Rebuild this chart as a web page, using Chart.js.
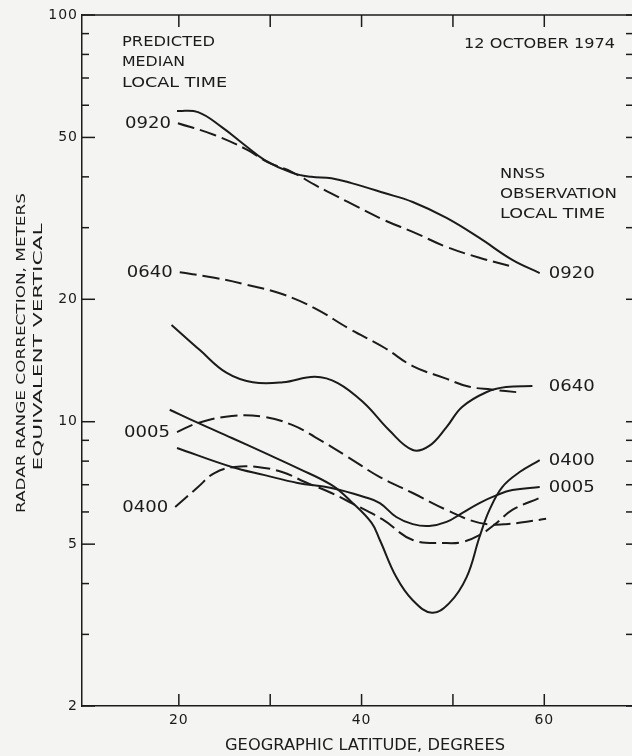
<!DOCTYPE html>
<html>
<head>
<meta charset="utf-8">
<script src="https://cdn.jsdelivr.net/npm/chart.js@4.4.1/dist/chart.umd.min.js"></script>
<style>
  html, body { margin: 0; padding: 0; background: #f4f4f2; }
  #chart { display: block; }
</style>
</head>
<body>
<canvas id="chart" width="632" height="756"></canvas>
<script>
// axis ticks
const latTicks = [20, 30, 40, 50, 60];
const latLabels = [20, 40, 60];
const rcTicks = [2, 3, 4, 5, 6, 7, 8, 9, 10, 20, 30, 40, 50, 60, 70, 80, 90, 100];
const rcLabels = [2, 5, 10, 20, 50, 100];

// NNSS observation (solid) - latitude, range correction (m)
const obs0920Lat = [19.8, 22.1, 24.7, 27.2, 29.4, 32.4, 34.5, 36.7, 38.9, 42.5, 45.6, 49.3, 52.9, 56.5, 59.5];
const obs0920Rc  = [58.1, 57.7, 53.0, 47.9, 44.0, 40.9, 40.0, 39.7, 38.6, 36.5, 34.7, 31.7, 28.3, 25.0, 23.2];
const obs0640Lat = [19.2, 22.3, 25.2, 28.1, 31.4, 34.9, 37.4, 40.3, 43.0, 45.6, 47.4, 49.3, 51.0, 53.7, 55.8, 58.7];
const obs0640Rc  = [17.3, 15.0, 13.2, 12.5, 12.5, 12.9, 12.45, 11.1, 9.54, 8.52, 8.72, 9.7, 10.87, 11.83, 12.17, 12.24];
const obs0400Lat = [19.0, 22.1, 25.8, 29.4, 33.0, 36.7, 38.9, 41.1, 42.0, 43.8, 45.6, 47.7, 49.6, 51.5, 52.9, 54.0, 55.4, 57.3, 59.5];
const obs0400Rc  = [10.7, 9.93, 9.12, 8.38, 7.69, 6.99, 6.35, 5.64, 5.12, 4.15, 3.64, 3.39, 3.58, 4.15, 5.2, 6.07, 6.91, 7.52, 8.05];
const obs0005Lat = [19.8, 25.8, 29.4, 33.0, 36.7, 40.3, 42.0, 43.8, 45.6, 47.4, 49.3, 51.0, 52.9, 54.8, 56.5, 59.5];
const obs0005Rc  = [8.62, 7.74, 7.39, 7.07, 6.87, 6.53, 6.31, 5.83, 5.6, 5.54, 5.67, 5.96, 6.31, 6.6, 6.79, 6.91];

// predicted median (dashed)
const pred0920Lat = [19.9, 23.9, 27.5, 29.7, 32.4, 34.9, 38.5, 42.5, 45.6, 49.3, 52.9, 56.7];
const pred0920Rc  = [54.2, 50.7, 46.6, 43.5, 41.1, 38.2, 34.7, 31.3, 29.3, 26.9, 25.3, 24.0];
const pred0640Lat = [20.1, 23.9, 27.5, 31.3, 34.9, 38.5, 42.5, 45.6, 49.1, 51.7, 54.2, 57.3];
const pred0640Rc  = [23.3, 22.6, 21.7, 20.6, 19.0, 17.0, 15.2, 13.7, 12.8, 12.2, 12.0, 11.8];
const pred0005Lat = [19.8, 22.1, 25.8, 29.4, 32.4, 34.9, 38.5, 42.0, 45.6, 49.3, 52.9, 55.8, 60.2];
const pred0005Rc  = [9.43, 9.93, 10.33, 10.27, 9.82, 9.17, 8.19, 7.31, 6.68, 6.07, 5.64, 5.6, 5.77];
const pred0400Lat = [19.6, 22.1, 23.9, 26.1, 28.6, 31.3, 33.8, 36.7, 38.9, 42.3, 45.6, 49.3, 51.0, 52.9, 54.8, 56.5, 59.5];
const pred0400Rc  = [6.17, 6.91, 7.48, 7.74, 7.74, 7.52, 7.11, 6.68, 6.31, 5.75, 5.12, 5.03, 5.06, 5.26, 5.64, 6.07, 6.5];

const ink = '#1b1b1b';
const fam = '"DejaVu Sans", "Liberation Sans", sans-serif';

function pts(xs, ys) {
    return xs.map((x, i) => ({ x: x, y: ys[i] }));
}

const series = [
    { time: '0920', dashed: false, lat: obs0920Lat, rc: obs0920Rc },
    { time: '0640', dashed: false, lat: obs0640Lat, rc: obs0640Rc },
    { time: '0400', dashed: false, lat: obs0400Lat, rc: obs0400Rc },
    { time: '0005', dashed: false, lat: obs0005Lat, rc: obs0005Rc },
    { time: '0920', dashed: true, lat: pred0920Lat, rc: pred0920Rc },
    { time: '0640', dashed: true, lat: pred0640Lat, rc: pred0640Rc },
    { time: '0005', dashed: true, lat: pred0005Lat, rc: pred0005Rc },
    { time: '0400', dashed: true, lat: pred0400Lat, rc: pred0400Rc },
];

// draw text stretched horizontally to a given width (the lettering is wide)
function stretched(ctx, text, x, y, width, align) {
    const w0 = ctx.measureText(text).width;
    const k = width / w0;
    let left = x;
    if (align === 'right') left = x - width;
    if (align === 'center') left = x - width / 2;
    ctx.save();
    ctx.translate(left, y);
    ctx.scale(k, 1);
    ctx.textAlign = 'left';
    ctx.fillText(text, 0, 0);
    ctx.restore();
}

function line(ctx, x1, y1, x2, y2) {
    ctx.beginPath();
    ctx.moveTo(x1, y1);
    ctx.lineTo(x2, y2);
    ctx.stroke();
}

const framePlugin = {
    id: 'frame',
    beforeDraw(chart) {
        chart.ctx.letterSpacing = '1px';
    },
    afterDraw(chart) {
        const ctx = chart.ctx;
        const a = chart.chartArea;
        const sx = chart.scales.x;
        const sy = chart.scales.y;
        ctx.letterSpacing = '0px';
        ctx.save();
        ctx.strokeStyle = ink;
        ctx.lineWidth = 1.5;
        // top edge of the frame
        line(ctx, a.left, a.top, a.right, a.top);
        // inward tick marks
        latTicks.forEach((v) => {
            const px = sx.getPixelForValue(v);
            line(ctx, px, a.bottom, px, a.bottom - 12);
            line(ctx, px, a.top, px, a.top + 12);
        });
        rcTicks.forEach((v) => {
            const py = sy.getPixelForValue(v);
            const len = rcLabels.includes(v) ? 13 : 7;
            line(ctx, a.left, py, a.left + len, py);
            line(ctx, a.right, py, a.right - 6, py);
        });

        ctx.fillStyle = ink;
        ctx.textBaseline = 'middle';
        ctx.font = '14px ' + fam;
        stretched(ctx, 'PREDICTED', 122, 42, 93, 'left');
        stretched(ctx, 'MEDIAN', 122, 62, 63, 'left');
        stretched(ctx, 'LOCAL TIME', 122, 83, 105, 'left');
        stretched(ctx, '12 OCTOBER 1974', 464, 44, 151, 'left');
        stretched(ctx, 'NNSS', 500, 174, 45, 'left');
        stretched(ctx, 'OBSERVATION', 500, 194, 117, 'left');
        stretched(ctx, 'LOCAL TIME', 500, 214, 105, 'left');

        // time labels: predicted at curve start (left), observed at curve end (right)
        ctx.font = '15px ' + fam;
        series.forEach((s) => {
            if (s.dashed) {
                const py = sy.getPixelForValue(s.rc[0]);
                const px = sx.getPixelForValue(s.lat[0]) - 7;
                stretched(ctx, s.time, px, py + 1, 46, 'right');
            } else {
                const n = s.rc.length - 1;
                const py = sy.getPixelForValue(s.rc[n]);
                stretched(ctx, s.time, sx.getPixelForValue(60.5), py + 1, 46, 'left');
            }
        });

        // axis titles
        ctx.font = '15px ' + fam;
        stretched(ctx, 'GEOGRAPHIC LATITUDE, DEGREES', 365, 746, 280, 'center');
        ctx.font = '13px ' + fam;
        ctx.save();
        ctx.translate(22, 353);
        ctx.rotate(-Math.PI / 2);
        stretched(ctx, 'RADAR RANGE CORRECTION, METERS', 0, 0, 320, 'center');
        ctx.restore();
        ctx.save();
        ctx.translate(39, 347);
        ctx.rotate(-Math.PI / 2);
        stretched(ctx, 'EQUIVALENT VERTICAL', 0, 0, 247, 'center');
        ctx.restore();
        ctx.restore();
    },
};

const datasets = series.map((s) => ({
    label: (s.dashed ? 'Predicted ' : 'NNSS ') + s.time,
    data: pts(s.lat, s.rc),
    borderColor: ink,
    borderWidth: 2,
    borderDash: s.dashed ? [17, 6] : [],
    pointRadius: 0,
    fill: false,
    tension: 0.4,
}));

const ctx = document.getElementById('chart');
const chart = new Chart(ctx, {
    type: 'line',
    data: { datasets: datasets },
    plugins: [framePlugin],
    options: {
        responsive: false,
        animation: false,
        layout: { padding: { top: 15, right: 0, left: 0, bottom: 0 } },
        plugins: {
            legend: { display: false },
            tooltip: { enabled: false },
        },
        scales: {
            x: {
                type: 'linear',
                min: 9.4,
                max: 69.6,
                afterBuildTicks: (s) => { s.ticks = latTicks.map((v) => ({ value: v })); },
                afterFit: (s) => { s.height = 50; },
                ticks: {
                    autoSkip: false,
                    maxRotation: 0,
                    padding: 6,
                    color: ink,
                    font: { family: fam, size: 14 },
                    callback: (v) => (latLabels.includes(v) ? String(v) : ''),
                },
                grid: { display: true, drawOnChartArea: false, drawTicks: false },
                border: { display: true, color: ink, width: 1.5 },
            },
            y: {
                type: 'logarithmic',
                min: 2,
                max: 100,
                afterBuildTicks: (s) => { s.ticks = rcTicks.map((v) => ({ value: v })); },
                afterFit: (s) => { s.width = 82; },
                ticks: {
                    autoSkip: false,
                    padding: 4,
                    color: ink,
                    font: { family: fam, size: 14 },
                    callback: (v) => (rcLabels.includes(v) ? String(v) : ''),
                },
                grid: { display: true, drawOnChartArea: false, drawTicks: false },
                border: { display: true, color: ink, width: 1.5 },
            },
        },
    },
});
</script>
</body>
</html>
